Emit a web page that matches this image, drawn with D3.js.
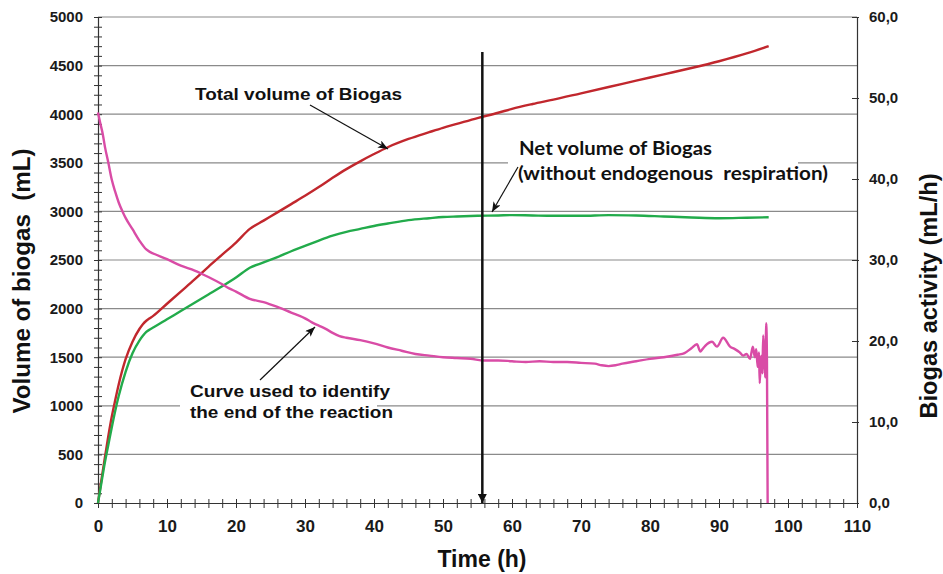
<!DOCTYPE html>
<html><head><meta charset="utf-8">
<script src="https://cdn.jsdelivr.net/npm/d3@7"></script>
<style>body{margin:0;background:#fff}svg{display:block}</style>
</head><body><svg id="c" width="943" height="574"></svg>
<script>
// ---- data ----
const xTicks = [0,10,20,30,40,50,60,70,80,90,100,110];
const leftTicks = [0,500,1000,1500,2000,2500,3000,3500,4000,4500,5000];
const rightTicks = [0,10,20,30,40,50,60];

const totalT = [0,0.5,1,1.5,2,2.5,3,4,5,6,6.5,7,7.5,8,10,12,14,16,18,20,22,24,26,28,30,32,34,36,38,40,42,45,48,50,52,55,58,60,63,66,70,74,78,82,86,90,94,97.2];
const totalV = [0,240,470,690,890,1060,1220,1480,1660,1790,1840,1875,1900,1925,2050,2175,2300,2430,2555,2680,2820,2905,2990,3075,3160,3250,3345,3435,3515,3590,3660,3745,3815,3860,3900,3960,4015,4055,4105,4150,4215,4280,4345,4410,4475,4545,4625,4700];

const netT = [0,0.5,1,1.5,2,2.5,3,4,5,6,6.5,7,7.5,8,10,12,14,16,18,20,22,24,26,28,30,32,34,36,38,40,42,45,48,50,52,55,58,60,63,66,70,74,78,82,86,90,94,97.2];
const netV = [0,210,420,600,780,950,1100,1350,1540,1670,1720,1760,1785,1805,1890,1975,2060,2145,2230,2320,2420,2475,2530,2590,2645,2700,2750,2790,2820,2850,2875,2910,2930,2942,2948,2955,2958,2962,2958,2955,2955,2962,2958,2948,2938,2930,2935,2940];

const actT = [0,0.3,0.7,1,1.5,2,2.5,3,3.6,4,5,6,7,7.5,8,10,12,14,16,18,19,20,22,24,26,28,30,31,32,33,34,35,36,38,40,42,44,46,48,50,52,54,56,58,60,62,64,66,68,70,72,73,74,75,76,78,80,82,84,85,86,86.8,87.3,87.6,88,89,89.7,90.6,91.6,92.3,93,93.5,94,94.5,94.9,95.2,95.4,95.6,95.8,95.9,96.1,96.3,96.4,96.6,96.7,96.85,96.95,97.05];
const actV = [48.2,47.0,45.5,44.0,42.0,39.9,38.4,37.1,35.9,35.2,33.8,32.4,31.3,31.0,30.8,30.1,29.3,28.7,27.9,27.0,26.5,26.1,25.2,24.8,24.2,23.5,22.8,22.3,21.9,21.5,21.0,20.6,20.4,20.1,19.7,19.2,18.8,18.4,18.2,18.0,17.9,17.8,17.6,17.6,17.5,17.4,17.5,17.4,17.4,17.3,17.2,17.0,16.9,17.0,17.2,17.5,17.8,18.0,18.3,18.5,19.1,19.6,18.7,19.0,19.4,19.9,19.3,20.4,19.3,19.0,18.6,18.2,18.4,17.8,19.3,18.0,19.0,16.8,18.6,14.8,18.2,16.0,20.7,17.5,15.5,22.2,17.5,0];

const endTime = 55.7;     // vertical arrow, end of reaction
const endTop = 4640;

// ---- scales ----
const svg = d3.select("#c");
const x = d3.scaleLinear().domain([0,110]).range([98,857]);
const yL = d3.scaleLinear().domain([0,5000]).range([503,17]);
const yR = d3.scaleLinear().domain([0,60]).range([503,17]);
const FONT = "'Liberation Sans', Arial, sans-serif";

svg.append("rect").attr("width",943).attr("height",574).attr("fill","#fff");

const defs = svg.append("defs");
defs.append("marker").attr("id","thin").attr("viewBox","0 0 10 8").attr("refX",10).attr("refY",4)
  .attr("markerWidth",10).attr("markerHeight",8).attr("markerUnits","userSpaceOnUse").attr("orient","auto")
  .append("path").attr("d","M0,0 L10,4 L0,8 L2.5,4 Z").attr("fill","#111");
defs.append("marker").attr("id","thick").attr("viewBox","0 0 10 10").attr("refX",10).attr("refY",5)
  .attr("markerWidth",10).attr("markerHeight",9).attr("markerUnits","userSpaceOnUse").attr("orient","auto")
  .append("path").attr("d","M0,0 L10,5 L0,10 Z").attr("fill","#111");

// gridlines
svg.append("g").selectAll("line").data(leftTicks.filter(d=>d>0)).join("line")
  .attr("x1",x(0)).attr("x2",x(110)).attr("y1",d=>yL(d)).attr("y2",d=>yL(d))
  .attr("stroke","#8a8a8a").attr("stroke-width",1.2);

// white label boxes
svg.append("rect").attr("x",508).attr("y",138).attr("width",290).attr("height",52).attr("fill","#fff");
svg.append("rect").attr("x",180).attr("y",372).attr("width",197).attr("height",56).attr("fill","#fff");

// axes
const axisColor = "#333";
const gLm = svg.append("g").attr("transform","translate(102,0)")
  .call(d3.axisLeft(yL).tickValues(d3.range(0,5001,100)).tickSize(8).tickFormat(""));
const gRm = svg.append("g").attr("transform","translate(852,0)")
  .call(d3.axisRight(yR).tickValues(rightTicks).tickSize(7).tickFormat(""));
const gXm = svg.append("g").attr("transform","translate(0,499)")
  .call(d3.axisBottom(x).tickValues(d3.range(0,111,2)).tickSize(9).tickFormat(""));
[gLm,gRm,gXm].forEach(g=>{g.select(".domain").remove(); g.selectAll("line").attr("stroke",axisColor).attr("stroke-width",1);});

const gL = svg.append("g").attr("transform","translate(98,0)")
  .call(d3.axisLeft(yL).tickValues(leftTicks).tickSize(0).tickPadding(15).tickFormat(d3.format("d")));
const gR = svg.append("g").attr("transform","translate(857,0)")
  .call(d3.axisRight(yR).tickValues(rightTicks).tickSize(0).tickPadding(12).tickFormat(d=>d3.format(".1f")(d).replace(".",",")));
const gX = svg.append("g").attr("transform","translate(0,503)")
  .call(d3.axisBottom(x).tickValues(xTicks).tickSize(0).tickPadding(17).tickFormat(d3.format("d")));
[gL,gR,gX].forEach(g=>{
  g.select(".domain").attr("stroke",axisColor).attr("stroke-width",1.2);
  g.selectAll("text").attr("font-family",FONT).attr("font-weight","bold").attr("fill","#1a1a1a");
});
gL.selectAll("text").attr("font-size",15);
gR.selectAll("text").attr("font-size",15);
gX.selectAll("text").attr("font-size",17);

// axis titles
svg.append("text").attr("transform","translate(30,281) rotate(-90)").attr("text-anchor","middle")
  .attr("font-family",FONT).attr("font-weight","bold").attr("font-size",23).attr("fill","#111")
  .attr("textLength",265).attr("lengthAdjust","spacingAndGlyphs")
  .style("white-space","pre").text("Volume of biogas  (mL)");
svg.append("text").attr("transform","translate(937,296) rotate(-90)").attr("text-anchor","middle")
  .attr("font-family",FONT).attr("font-weight","bold").attr("font-size",23).attr("fill","#111")
  .attr("textLength",245).attr("lengthAdjust","spacingAndGlyphs")
  .text("Biogas activity (mL/h)");
svg.append("text").attr("x",482).attr("y",567).attr("text-anchor","middle")
  .attr("font-family",FONT).attr("font-weight","bold").attr("font-size",23).attr("fill","#111")
  .text("Time (h)");

// curves
const line = (xs,ys,yS) => d3.line().x((d,i)=>x(xs[i])).y((d,i)=>yS(ys[i])).curve(d3.curveMonotoneX)(ys);
svg.append("path").attr("d",line(totalT,totalV,yL)).attr("fill","none").attr("stroke","#c1272d").attr("stroke-width",2.4);
svg.append("path").attr("d",line(netT,netV,yL)).attr("fill","none").attr("stroke","#22ab4b").attr("stroke-width",2.4);
svg.append("path").attr("d",line(actT,actV,yR))
  .attr("fill","none").attr("stroke","#d94ca6").attr("stroke-width",2.4).attr("stroke-linejoin","round");

// annotations
function label(txt,x0,y0,size,fam,w){
  const t = svg.append("text").attr("x",x0).attr("y",y0).attr("font-family",fam).attr("font-weight","bold")
    .attr("font-size",size).attr("fill","#111").style("white-space","pre").text(txt);
  if(w) t.attr("textLength",w).attr("lengthAdjust","spacingAndGlyphs");
}
label("Total volume of Biogas",195,100,17,FONT,207);
label("Net volume of Biogas",519,155,18,"Lato, 'Open Sans', sans-serif",193);
label("(without endogenous  respiration)",518,180,18,"Lato, 'Open Sans', sans-serif",310);
label("Curve used to identify",190,397,17,FONT,200);
label("the end of the reaction",190,418,17,FONT,203);

function arrow(x1,y1,x2,y2,w,m){
  svg.append("line").attr("x1",x1).attr("y1",y1).attr("x2",x2).attr("y2",y2)
    .attr("stroke","#111").attr("stroke-width",w).attr("marker-end",`url(#${m})`);
}
arrow(310,105,388,149,1.2,"thin");
arrow(518,167,492,212,1.2,"thin");
arrow(260,380,315,327,1.2,"thin");
arrow(x(endTime),yL(endTop),x(endTime),yL(0),2.5,"thick");
</script></body></html>
